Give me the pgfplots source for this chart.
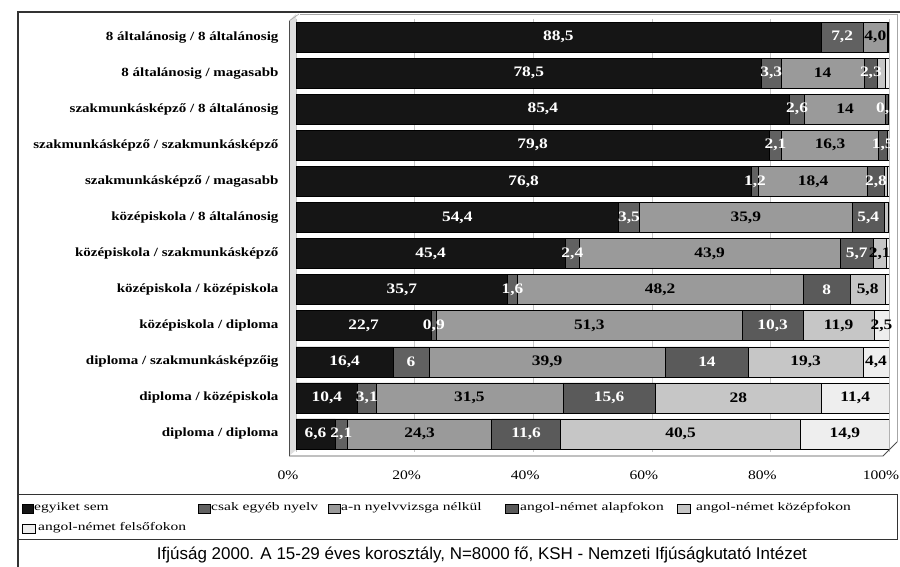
\documentclass[border=0pt]{standalone}
\usepackage{fontspec}
\setmainfont{Liberation Serif}
\newfontfamily\wide{Liberation Serif}[FakeStretch=1.2]
\newfontfamily\wider{Liberation Serif}[FakeStretch=1.35]
\newfontfamily\capfont{Liberation Sans}
\usepackage{graphicx}
\usepackage{pgfplots}
\usepackage{pgfplotstable}
\pgfplotsset{compat=1.18}
\definecolor{cA}{HTML}{151515}
\definecolor{cB}{HTML}{616161}
\definecolor{cC}{HTML}{9A9A9A}
\definecolor{cD}{HTML}{5A5A5A}
\definecolor{cE}{HTML}{C6C6C6}
\definecolor{cF}{HTML}{EEEEEE}

\pgfplotstableread{
y  a    b   c    d    e    f    la   lb  lc   ld   le   lf
1  88.5 7.2 4.0  0.2  0.1  0.0  88,5 7,2 4,0  {}   {}   {}
2  78.5 3.3 14   2.3  1.3  0.6  78,5 3,3 14   2,3  {}   {}
3  85.4 2.6 14   0.5  0.1  0.0  85,4 2,6 14   0,5  {}   {}
4  79.8 2.1 16.3 1.5  0.3  0.0  79,8 2,1 16,3 1,5  {}   {}
5  76.8 1.2 18.4 2.8  0.5  0.3  76,8 1,2 18,4 2,8  {}   {}
6  54.4 3.5 35.9 5.4  0.6  0.2  54,4 3,5 35,9 5,4  {}   {}
7  45.4 2.4 43.9 5.7  2.1  0.5  45,4 2,4 43,9 5,7  2,1  {}
8  35.7 1.6 48.2 8    5.8  0.7  35,7 1,6 48,2 8    5,8  {}
9  22.7 0.9 51.3 10.3 11.9 2.5  22,7 0,9 51,3 10,3 11,9 2,5
10 16.4 6   39.9 14   19.3 4.4  16,4 6   39,9 14   19,3 4,4
11 10.4 3.1 31.5 15.6 28   11.4 10,4 3,1 31,5 15,6 28   11,4
12 6.6  2.1 24.3 11.6 40.5 14.9 6,6  2,1 24,3 11,6 40,5 14,9
}\data
\pgfplotstablecreatecol[expr={\thisrow{a}+\thisrow{b}+\thisrow{c}+\thisrow{d}+\thisrow{e}+\thisrow{f}}]{tot}{\data}

\pgfplotsset{base/.style={scale only axis, width=593pt, height=433pt,
  xmin=0, xmax=100, ymin=0.5, ymax=12.5, y dir=reverse,
  at={(296pt,115pt)}, anchor=south west},
  lbl/.style={draw=none, mark=none, nodes near coords, point meta=explicit symbolic,
  every node near coord/.style={anchor=center, text=#1, font=\wide\bfseries\fontsize{14.5}{15}\selectfont}}}

\begin{document}
\begin{tikzpicture}[x=1pt,y=1pt]
\useasboundingbox (0,0) rectangle (900,567);
% outer frame
\draw[line width=1.2pt, black!80] (18,0) -- (18,555) -- (901,555);
% walls
\draw[gray!70, line width=0.6pt] (300,553) -- (897,553) -- (897,125);
\fill[gray!25] (289,111) -- (289,546) -- (296,553) -- (296,117) -- cycle;
\draw[gray!70, line width=0.6pt] (289,546) -- (299,553);
\draw[black!70, line width=0.8pt] (289,111) -- (289,546);

\begin{axis}[base, xbar stacked, bar width=30pt,
  axis line style={draw=none}, major tick length=0pt,
  xtick={0,20,...,100}, xticklabels={0\%,20\%,40\%,60\%,80\%,100\%},
  xticklabel style={font=\wide\fontsize{13}{14}\selectfont, anchor=center, xshift=-8pt, yshift=-23pt},
  ytick={1,...,12},
  yticklabels={8 általánosig / 8 általánosig, 8 általánosig / magasabb, szakmunkásképző / 8 általánosig, szakmunkásképző / szakmunkásképző, szakmunkásképző / magasabb, középiskola / 8 általánosig, középiskola / szakmunkásképző, középiskola / középiskola, középiskola / diploma, diploma / szakmunkásképzőig, diploma / középiskola, diploma / diploma},
  yticklabel style={font=\wide\bfseries\fontsize{12.5}{13}\selectfont, anchor=east, xshift=-14pt},
  xmajorgrids, grid style={gray!45, line width=0.6pt},
  /pgf/number format/assume math mode=true]
\addplot[fill=cA, draw=black, line width=0.5pt] table[x expr=\thisrow{a}*100/\thisrow{tot}, y=y]{\data};
\addplot[fill=cB, draw=black, line width=0.5pt] table[x expr=\thisrow{b}*100/\thisrow{tot}, y=y]{\data};
\addplot[fill=cC, draw=black, line width=0.5pt] table[x expr=\thisrow{c}*100/\thisrow{tot}, y=y]{\data};
\addplot[fill=cD, draw=black, line width=0.5pt] table[x expr=\thisrow{d}*100/\thisrow{tot}, y=y]{\data};
\addplot[fill=cE, draw=black, line width=0.5pt] table[x expr=\thisrow{e}*100/\thisrow{tot}, y=y]{\data};
\addplot[fill=cF, draw=black, line width=0.5pt] table[x expr=\thisrow{f}*100/\thisrow{tot}, y=y]{\data};
\end{axis}

% floor
\draw[black!70, line width=0.8pt] (289,111) -- (883,111) -- (897,125);

\begin{axis}[base, hide axis, clip=false]
\addplot[lbl=white] table[x expr=0.5*\thisrow{a}*100/\thisrow{tot}, y=y, meta=la]{\data};
\addplot[lbl=white] table[x expr=(\thisrow{a}+0.5*\thisrow{b})*100/\thisrow{tot}, y=y, meta=lb]{\data};
\addplot[lbl=black] table[x expr=(\thisrow{a}+\thisrow{b}+0.5*\thisrow{c})*100/\thisrow{tot}, y=y, meta=lc]{\data};
\addplot[lbl=white] table[x expr=(\thisrow{a}+\thisrow{b}+\thisrow{c}+0.5*\thisrow{d})*100/\thisrow{tot}, y=y, meta=ld]{\data};
\addplot[lbl=black] table[x expr=(\thisrow{a}+\thisrow{b}+\thisrow{c}+\thisrow{d}+0.5*\thisrow{e})*100/\thisrow{tot}, y=y, meta=le]{\data};
\addplot[lbl=black] table[x expr=(\thisrow{a}+\thisrow{b}+\thisrow{c}+\thisrow{d}+\thisrow{e}+0.5*\thisrow{f})*100/\thisrow{tot}, y=y, meta=lf]{\data};
\end{axis}

% legend
\draw[black!80, line width=1pt] (18,27) rectangle (897,72);
\begin{scope}[every node/.style={anchor=west, inner sep=0pt, font=\wider\fontsize{11.5}{12}\selectfont}]
\filldraw[fill=cA, draw=black] (22,54) rectangle (33,63); \node at (34,59) {egyiket sem};
\filldraw[fill=cB, draw=black] (198,54) rectangle (210,63); \node at (211,59) {csak egyéb nyelv};
\filldraw[fill=cC, draw=black] (328,54) rectangle (340,63); \node at (341,59) {a-n nyelvvizsga nélkül};
\filldraw[fill=cD, draw=black] (505,54) rectangle (518,63); \node at (520,59) {angol-német alapfokon};
\filldraw[fill=cE, draw=black] (677,54) rectangle (690,63); \node at (696,59) {angol-német középfokon};
\filldraw[fill=cF, draw=black] (22,34) rectangle (35,43); \node at (38,39) {angol-német felsőfokon};
\end{scope}
% caption
\node[inner sep=0pt] at (482,12) {\resizebox{650pt}{\height}{\capfont\fontsize{17}{18}\selectfont Ifjúság 2000. A 15-29 éves korosztály, N=8000 fő, KSH - Nemzeti Ifjúságkutató Intézet}};
\end{tikzpicture}
\end{document}
